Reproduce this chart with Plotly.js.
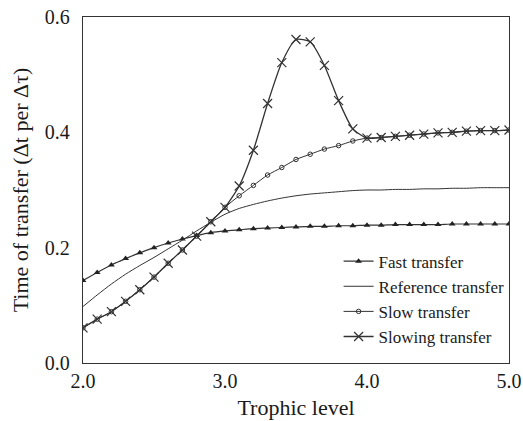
<!DOCTYPE html>
<html>
<head>
<meta charset="utf-8">
<script src="https://cdn.plot.ly/plotly-3.0.1.min.js"></script>
<style>html,body{margin:0;padding:0;background:#fff;}#chart{width:523px;height:421px;}</style>
</head>
<body>
<div id="chart"></div>
<script>
const trophicLevel = [2.0,2.1,2.2,2.3,2.4,2.5,2.6,2.7,2.8,2.9,3.0,3.1,3.2,3.3,3.4,3.5,3.6,3.7,3.8,3.9,4.0,4.1,4.2,4.3,4.4,4.5,4.6,4.7,4.8,4.9,5.0];
const fastTransfer = [0.143,0.157,0.170,0.181,0.191,0.200,0.208,0.215,0.221,0.226,0.229,0.231,0.233,0.234,0.235,0.236,0.237,0.237,0.238,0.238,0.239,0.239,0.240,0.240,0.240,0.240,0.241,0.241,0.241,0.241,0.241];
const referenceTransfer = [0.098,0.118,0.137,0.154,0.169,0.183,0.198,0.213,0.229,0.244,0.258,0.268,0.275,0.281,0.286,0.290,0.293,0.295,0.297,0.299,0.300,0.300,0.301,0.301,0.302,0.302,0.303,0.303,0.304,0.304,0.304];
const slowTransfer = [0.061,0.076,0.089,0.107,0.127,0.149,0.173,0.196,0.220,0.245,0.270,0.290,0.308,0.326,0.339,0.353,0.362,0.371,0.377,0.385,0.390,0.391,0.393,0.395,0.397,0.399,0.400,0.402,0.403,0.403,0.404];
const slowingTransfer = [0.061,0.076,0.089,0.107,0.127,0.149,0.173,0.196,0.220,0.245,0.270,0.307,0.369,0.450,0.521,0.561,0.557,0.516,0.455,0.406,0.390,0.391,0.393,0.395,0.397,0.399,0.400,0.402,0.403,0.403,0.404];
const seriesNames = ["Fast transfer","Reference transfer","Slow transfer","Slowing transfer"];
const xTickVals = [2,3,4,5];
const xTickText = ["2.0","3.0","4.0","5.0"];
const yTickVals = [0,0.2,0.4,0.6];
const yTickText = ["0.0","0.2","0.4","0.6"];

const lc = '#333';
const serif = 'Liberation Serif';
const traces = [
  {x: trophicLevel, y: fastTransfer, name: seriesNames[0], legendgroup:'a', mode:'lines+markers',
   line:{color:lc,width:1.2,shape:'spline',smoothing:0.6}, marker:{symbol:'triangle-up',size:6,color:'#222'}},
  {x: trophicLevel, y: referenceTransfer, name: seriesNames[1], legendgroup:'b', mode:'lines',
   line:{color:lc,width:1,shape:'spline',smoothing:0.6}},
  {x: trophicLevel, y: slowTransfer, name: seriesNames[2], legendgroup:'c', mode:'lines+markers',
   line:{color:lc,width:1,shape:'spline',smoothing:0.6}, marker:{symbol:'circle-open',size:4.5,color:lc,line:{width:1,color:lc}}},
  {x: trophicLevel, y: slowingTransfer, name: seriesNames[3], legendgroup:'d', mode:'lines+markers',
   line:{color:lc,width:1.3,shape:'spline',smoothing:0.6}, marker:{symbol:'x-thin-open',size:9,color:lc,line:{width:1.2,color:lc}}}
];

const layout = {
  width:523, height:421,
  margin:{l:83,r:14,t:17,b:58,pad:0},
  paper_bgcolor:'#fff', plot_bgcolor:'#fff',
  font:{family:serif,color:'#1a1a1a',size:20},
  showlegend:true,
  legend:{x:0.6,y:0.345,xanchor:'left',yanchor:'top',bgcolor:'rgba(0,0,0,0)',
    font:{family:serif,size:17,color:'#1a1a1a'},traceorder:'grouped',tracegroupgap:0},
  xaxis:{range:[2,5],tickvals:xTickVals,ticktext:xTickText,ticks:'',showgrid:false,zeroline:false,
    showline:true,linecolor:'#333',linewidth:1.2,mirror:true,ticklabelstandoff:0,
    tickfont:{family:serif,size:20},
    title:{text:'Trophic level',font:{family:serif,size:22},standoff:8}},
  yaxis:{range:[0,0.6],tickvals:yTickVals,ticktext:yTickText,ticks:'',showgrid:false,zeroline:false,
    showline:true,linecolor:'#333',linewidth:1.2,mirror:true,ticklabelstandoff:8,
    tickfont:{family:serif,size:20},
    title:{text:'Time of transfer (Δt per Δτ)',font:{family:serif,size:22},standoff:10}}
};
Plotly.newPlot('chart',traces,layout,{displayModeBar:false,staticPlot:true});
</script>
</body>
</html>
